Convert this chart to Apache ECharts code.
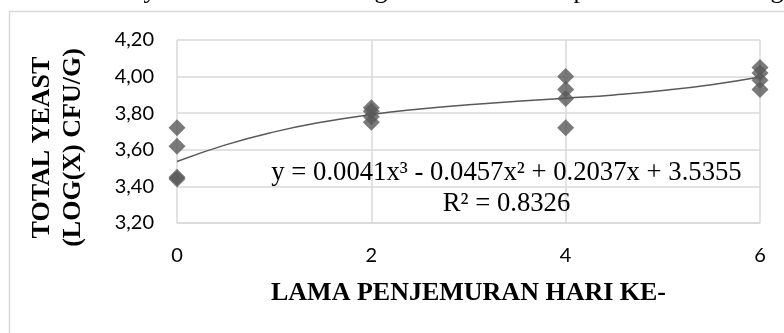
<!DOCTYPE html>
<html>
<head>
<meta charset="utf-8">
<script src="https://cdn.jsdelivr.net/npm/echarts@6/dist/echarts.min.js"></script>
<style>
html,body{margin:0;padding:0;background:#fff;}
#c{width:784px;height:333px;}
</style>
</head>
<body>
<div id="c"></div>
<script>
// Data
const days = [0, 2, 4, 6];
const rep1 = [3.72, 3.83, 4.00, 4.05];
const rep2 = [3.62, 3.81, 3.93, 4.02];
const rep3 = [3.45, 3.78, 3.88, 3.98];
const rep4 = [3.44, 3.75, 3.72, 3.93];
// Trend line (polynomial) points
const trendX = [0, 0.5, 1, 1.5, 2, 2.5, 3, 3.5, 4, 4.5, 5, 5.5, 6];
const trendY = [3.536, 3.627, 3.698, 3.752, 3.793, 3.823, 3.846, 3.865, 3.882, 3.900, 3.924, 3.956, 3.998];
const xTicks = [0, 2, 4, 6];
const yTicks = [3.20, 3.40, 3.60, 3.80, 4.00, 4.20];
const equationText = 'y = 0.0041x³ - 0.0457x² + 0.2037x + 3.5355';
const r2Text = 'R² = 0.8326';
const xTitle = 'LAMA PENJEMURAN HARI KE-';
const yTitle = ['TOTAL YEAST', '(LOG(X) CFU/G)'];
const topFragments = ['y', 'g', 'p', 'g'];
const topFragmentX = [150, 381, 580, 777];

const points = [];
[rep1, rep2, rep3, rep4].forEach(r => r.forEach((v, i) => points.push([days[i], v])));
const trend = trendX.map((x, i) => [x, trendY[i]]);

const gray = '#595959';
const gridColor = '#d9d9d9';
const serif = '"Liberation Serif", "Times New Roman", serif';
const sans = 'Lato, "Open Sans", sans-serif';

const chart = echarts.init(document.getElementById('c'), null, {renderer: 'canvas'});
const graphics = [
  {type: 'rect', shape: {x: 9.5, y: 11.5, width: 900, height: 500}, style: {fill: 'none', stroke: gridColor, lineWidth: 1.5}, silent: true, z: 0},
  {type: 'text', x: 506.5, y: 172.5, style: {text: equationText, font: '26.7px ' + serif, fill: '#000', align: 'center', verticalAlign: 'middle'}, z: 10},
  {type: 'text', x: 506.5, y: 203.5, style: {text: r2Text, font: '26.7px ' + serif, fill: '#000', align: 'center', verticalAlign: 'middle'}, z: 10},
  {type: 'text', x: 468.5, y: 293, style: {text: xTitle, font: 'bold 26px ' + serif, fill: '#000', align: 'center', verticalAlign: 'middle'}, z: 10},
  {type: 'text', x: 58, y: 147.5, rotation: Math.PI / 2, style: {text: yTitle.join('\n'), font: 'bold 26px ' + serif, lineHeight: 31, fill: '#000', align: 'center', verticalAlign: 'middle'}, z: 10}
];
topFragments.forEach((t, i) => graphics.push({type: 'text', x: topFragmentX[i], y: -9, style: {text: t, font: '26px ' + serif, fill: '#000', align: 'center', verticalAlign: 'middle'}, z: 10}));

chart.setOption({
  animation: false,
  backgroundColor: '#fff',
  grid: {left: 177, right: 24, top: 40, bottom: 110, containLabel: false},
  xAxis: {
    type: 'value', min: 0, max: 6, interval: 2,
    axisLine: {show: true, lineStyle: {color: gridColor, width: 1.5}},
    axisTick: {show: false},
    splitLine: {show: true, lineStyle: {color: gridColor, width: 1.5}},
    axisLabel: {margin: 23, color: '#000', fontFamily: sans, fontSize: 20,
      formatter: v => xTicks.includes(v) ? String(v) : ''}
  },
  yAxis: {
    type: 'value', min: 3.2, max: 4.2, interval: 0.2,
    axisLine: {show: false},
    axisTick: {show: false},
    splitLine: {show: true, lineStyle: {color: gridColor, width: 1.5}},
    axisLabel: {margin: 23, color: '#000', fontFamily: sans, fontSize: 20,
      formatter: v => {
        const t = yTicks.find(k => Math.abs(k - v) < 1e-6);
        return t === undefined ? '' : t.toFixed(2).replace('.', ',');
      }}
  },
  series: [
    {type: 'line', data: trend, smooth: true, showSymbol: false, symbol: 'none',
      lineStyle: {color: gray, width: 1.5}, z: 3},
    {type: 'scatter', data: points, symbol: 'diamond', symbolSize: 17,
      itemStyle: {color: gray}, z: 2}
  ],
  graphic: graphics
});
</script>
</body>
</html>
